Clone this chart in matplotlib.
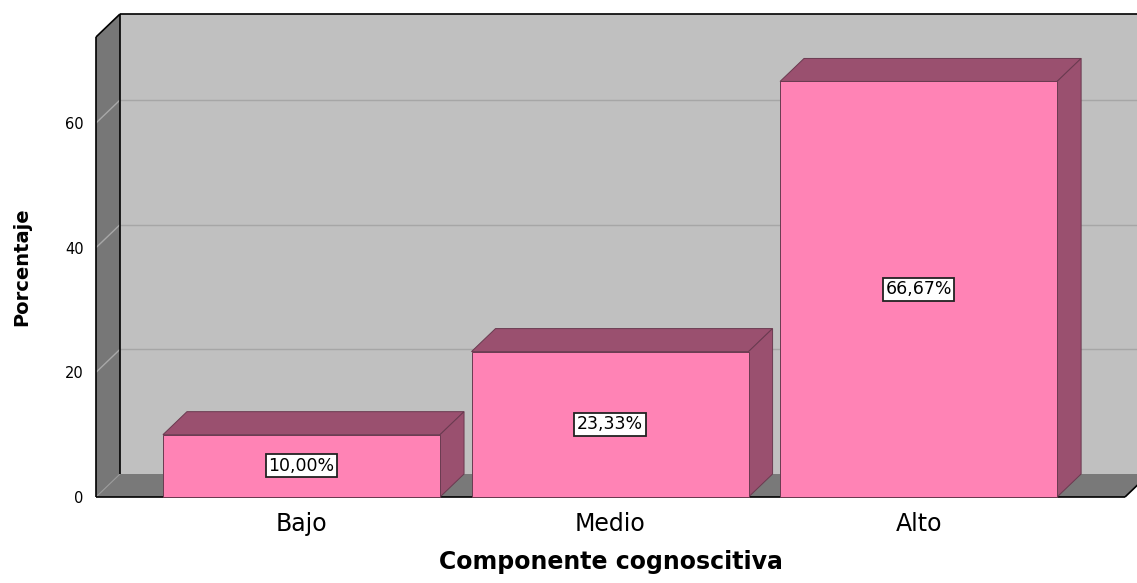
import matplotlib
matplotlib.use("Agg")
import matplotlib.pyplot as plt
from matplotlib.patches import Polygon, Rectangle
import numpy as np

categories = ["Bajo", "Medio", "Alto"]
percentages = [10.00, 23.33, 66.67]
y_ticks = [0, 20, 40, 60]

FRONT = "#FF83B5"
DARK = "#9A506F"
EDGE = "#6A3A50"
WALL = "#C0C0C0"
SIDE = "#777777"
DEPTH = (24, 23)  # pixels of 3D depth offset

W, H = 1137, 583
fig = plt.figure(figsize=(W / 100, H / 100), dpi=100)
ax = fig.add_axes([96 / W, (H - 497) / H, (1125 - 96) / W, (497 - 37) / H])
x0, x1 = -0.666, 2.669
ymax = 73.8
ax.set_xlim(x0, x1)
ax.set_ylim(0, ymax)
ax.patch.set_visible(False)
for s in ax.spines.values():
    s.set_visible(False)


def back(x, y):
    p = ax.transData.transform((x, y))
    return tuple(ax.transData.inverted().transform(p + np.array(DEPTH)))


def poly(pts, fc, ec="none", lw=0.0, z=1):
    ax.add_patch(Polygon(pts, closed=True, facecolor=fc, edgecolor=ec,
                         linewidth=lw, clip_on=False, zorder=z))


def line(p, q, color="black", lw=1.2, z=3):
    ax.plot([p[0], q[0]], [p[1], q[1]], color=color, lw=lw, clip_on=False,
            zorder=z, solid_capstyle="butt")


# back wall, left wall, floor
poly([back(x0, 0), back(x1, 0), back(x1, ymax), back(x0, ymax)], WALL, z=0)
poly([(x0, 0), (x0, ymax), back(x0, ymax), back(x0, 0)], SIDE, z=1)
poly([(x0, 0), (x1, 0), back(x1, 0), back(x0, 0)], "#797979", z=1)

# gridlines
for t in y_ticks[1:]:
    line((x0, t), back(x0, t), color="#A8A8A8", lw=1.0, z=2)
    line(back(x0, t), back(x1, t), color="#A6A6A6", lw=1.0, z=0.5)
line((x0, 0), back(x0, 0), color="#999999", lw=0.8, z=2)

# frame edges
line((x0, 0), (x0, ymax))
line((x0, ymax), back(x0, ymax))
line(back(x0, ymax), back(x1, ymax))
line(back(x0, 0), back(x0, ymax))
line((x0, 0), (x1, 0))
line((x1, 0), back(x1, 0))

# bars
bw = 0.898
for i, v in enumerate(percentages):
    l, r = i - bw / 2, i + bw / 2
    poly([(l, v), (r, v), back(r, v), back(l, v)], DARK, EDGE, 0.7, z=4)
    poly([(r, 0), back(r, 0), back(r, v), (r, v)], DARK, EDGE, 0.7, z=4)
    ax.add_patch(Rectangle((l, 0), bw, v, facecolor=FRONT, edgecolor=EDGE,
                           linewidth=0.7, clip_on=False, zorder=5))
    ax.text(i, v / 2, f"{v:.2f}%".replace(".", ","), ha="center", va="center",
            fontsize=12.5, zorder=6,
            bbox=dict(boxstyle="square,pad=0.15", facecolor="white",
                      edgecolor="#222222", linewidth=1.3))

ax.set_yticks(y_ticks)
ax.set_yticklabels([str(t) for t in y_ticks], fontsize=10.5)
ax.set_xticks(range(len(categories)))
ax.set_xticklabels(categories, fontsize=17)
ax.tick_params(axis="both", length=0)
ax.tick_params(axis="y", pad=9)
ax.tick_params(axis="x", pad=11)
ax.set_xlabel("Componente cognoscitiva", fontsize=17, fontweight="bold",
              labelpad=10)
ax.set_ylabel("Porcentaje", fontsize=14, fontweight="bold", labelpad=24)

fig.savefig("out.png", dpi=100)
